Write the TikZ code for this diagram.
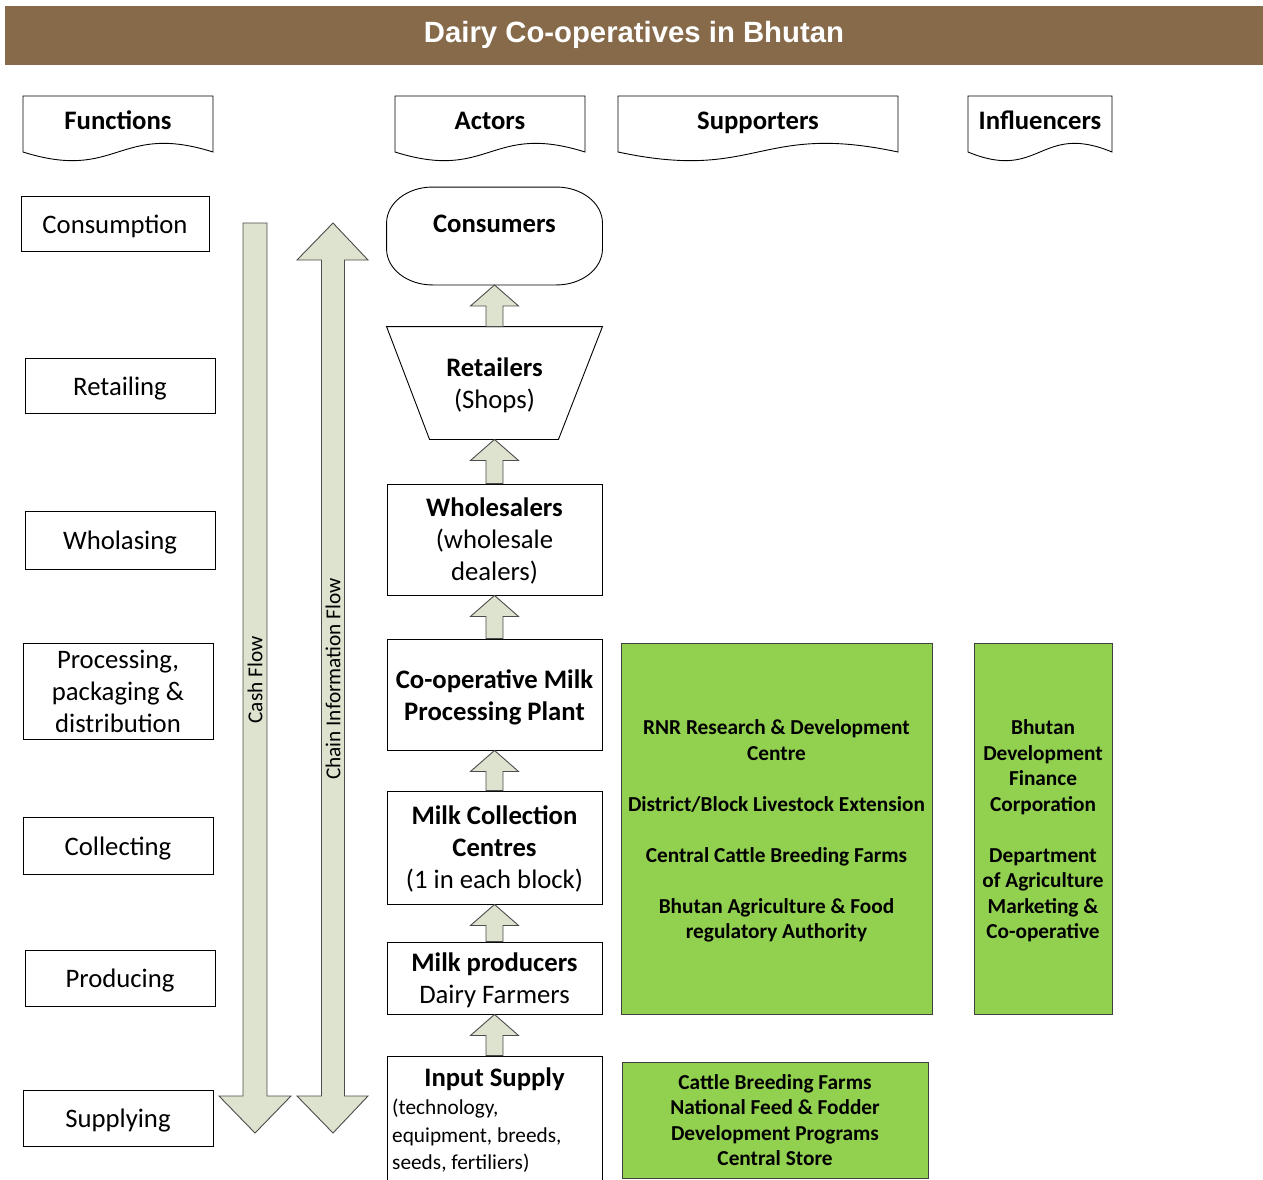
\documentclass[tikz,border=0pt]{standalone}
\usepackage{fontspec}
\setmainfont{Carlito}
\newfontfamily\titlefont{Liberation Sans}
\usetikzlibrary{positioning,calc}

\definecolor{barbrown}{RGB}{134,106,74}
\definecolor{leafgreen}{RGB}{146,208,80}
\definecolor{flowgrey}{RGB}{221,227,206}

\newcommand{\bigfont}{\fontsize{26.7}{32}\selectfont}
\newcommand{\smallfont}{\fontsize{21.3}{25.5}\selectfont}
\newcommand{\topstrut}[1]{\rule{0pt}{#1}}

% small block arrow: #1 = foot, #2 = tip
\newcommand{\liftarrow}[2]{%
  \draw[blockarrow] let \p1=(#1), \p2=(#2) in
    (\x1-8.5pt,\y1) -- (\x1-8.5pt,\y2-21pt) -- (\x1-24pt,\y2-21pt) -- (\x2,\y2)
    -- (\x1+24pt,\y2-21pt) -- (\x1+8.5pt,\y2-21pt) -- (\x1+8.5pt,\y1) -- cycle;}

% header with wavy bottom: #1 name, #2 left, #3 right, #4 text
\newcommand{\docshape}[4]{%
  \draw[line width=0.9pt] (#2,96) -- (#3,96) -- (#3,152)
    .. controls ({(#2+#3)/2},122) and ({(#2+#3)/2},182) .. (#2,152) -- cycle;
  \node[headtext] (#1) at ({(#2+#3)/2},123.5) {#4};}

\begin{document}
\begin{tikzpicture}[x=1pt, y=-1pt, on grid,
  funcbox/.style={draw, line width=0.9pt, minimum width=190pt, align=center, font=\bigfont},
  funcline/.style={funcbox, text height=24pt, text depth=5pt},
  actorbox/.style={draw, line width=0.9pt, minimum width=215pt, align=center, font=\bigfont},
  greenbox/.style={draw=black!75, line width=0.9pt, fill=leafgreen, align=center, font=\smallfont\bfseries},
  headtext/.style={font=\bigfont\bfseries, text height=19pt, text depth=7pt},
  blockarrow/.style={draw=black!70, line width=0.9pt, fill=flowgrey},
  flowlabel/.style={rotate=90, font=\smallfont}]

\useasboundingbox (0,0) rectangle (1263,1180);

% title bar
\fill[barbrown] (5,6) rectangle (1263,65);
\node[text=white, font=\titlefont\bfseries\fontsize{29.3}{34}\selectfont] (title) at (634,35) {Dairy Co-operatives in Bhutan};

% column headers
\docshape{hfunc}{23}{213}{Functions}
\docshape{hact}{395}{585}{Actors}
\docshape{hsup}{618}{898}{Supporters}
\docshape{hinf}{968}{1112}{Influencers}

% functions
\node[funcline, minimum width=188pt, minimum height=55pt] (consumption) at (115,223.5) {Consumption};
\node[funcline, minimum height=55pt] (retailing) at (120,385.5) {Retailing};
\node[funcline, minimum height=58pt] (wholasing) at (120,540) {Wholasing};
\node[funcbox, minimum height=96pt] (processing) at (118,691) {Processing,\\packaging \&\\distribution};
\node[funcline, minimum height=57pt] (collecting) at (118,845.5) {Collecting};
\node[funcline, minimum height=56pt] (producing) at (120,978) {Producing};
\node[funcline, minimum height=56pt] (supplying) at (118,1118) {Supplying};

% flows
\draw[blockarrow] (243,223) -- (267,223) -- (267,1096) -- (291,1096) -- (255,1133)
  -- (219,1096) -- (243,1096) -- cycle;
\node[flowlabel] (cash) at (255,680) {Cash Flow};
\draw[blockarrow] (333,223) -- (368,260) -- (344.5,260) -- (344.5,1096) -- (368,1096)
  -- (333,1133) -- (297,1096) -- (321.5,1096) -- (321.5,260) -- (297,260) -- cycle;
\node[flowlabel] (chain) at (333,679) {Chain Information Flow};

% actors
\node[actorbox, draw=none, minimum height=97pt,
  label={[font=\bigfont\bfseries, yshift=12pt]center:Consumers}] (cons) at (494.5,236) {};
\draw[line width=0.9pt] ($(cons.north west)+(46,0)$) -- ($(cons.north east)+(-46,0)$)
  arc[start angle=90, end angle=0, x radius=46pt, y radius=36pt] -- ($(cons.south east)+(0,-36)$)
  arc[start angle=0, end angle=-90, x radius=46pt, y radius=36pt] -- ($(cons.south west)+(46,0)$)
  arc[start angle=-90, end angle=-180, x radius=46pt, y radius=36pt] -- ($(cons.north west)+(0,36)$)
  arc[start angle=180, end angle=90, x radius=46pt, y radius=36pt] -- cycle;
\node[actorbox, draw=none, minimum height=112pt, below=147pt of cons] (ret) {\topstrut{24pt}\textbf{Retailers}\\(Shops)};
\draw[line width=0.9pt] (ret.north west) -- (ret.north east) -- ($(ret.south east)+(-44,0)$)
  -- ($(ret.south west)+(43,0)$) -- cycle;
\node[actorbox, minimum height=111pt, below=156.5pt of ret] (whole) {\topstrut{21pt}\textbf{Wholesalers}\\(wholesale\\dealers)};
\node[actorbox, minimum height=111pt, below=155pt of whole] (plant) {\topstrut{24pt}\textbf{Co-operative Milk}\\\textbf{Processing Plant}};
\node[actorbox, minimum height=113pt, below=153pt of plant] (coll) {\topstrut{21pt}\textbf{Milk Collection}\\\textbf{Centres}\\(1 in each block)};
\node[actorbox, minimum height=72pt, below=130.5pt of coll] (prod) {\topstrut{24pt}\textbf{Milk producers}\\Dairy Farmers};
\node[actorbox, minimum height=144pt, below=150pt of prod] (input) {};
\node[font=\bigfont\bfseries] (inputhead) at (494.5,1079) {Input Supply};
\node[anchor=west, align=left, inner sep=2pt, font=\fontsize{21.3}{27.5}\selectfont] (inputlist) at (390,1136)
  {(technology,\\equipment, breeds,\\seeds, fertiliers)};

\liftarrow{ret.north}{cons.south}
\liftarrow{whole.north}{ret.south}
\liftarrow{plant.north}{whole.south}
\liftarrow{coll.north}{plant.south}
\liftarrow{prod.north}{coll.south}
\liftarrow{input.north}{prod.south}

% supporters and influencers
\node[greenbox, minimum width=311pt, minimum height=371pt] (support) at (776.5,828.5)
  {\topstrut{20pt}RNR Research \& Development\\Centre\\[25.5pt]District/Block Livestock Extension\\[25.5pt]Central Cattle Breeding Farms\\[25.5pt]Bhutan Agriculture \& Food\\regulatory Authority};
\node[greenbox, minimum width=138pt, minimum height=371pt] (influence) at (1043,828.5)
  {\topstrut{20pt}Bhutan\\Development\\Finance\\Corporation\\[25.5pt]Department\\of Agriculture\\Marketing \&\\Co-operative};
\node[greenbox, minimum width=306pt, minimum height=116pt] (inputsupport) at (775,1120)
  {Cattle Breeding Farms\\National Feed \& Fodder\\Development Programs\\Central Store};

\end{tikzpicture}
\end{document}
